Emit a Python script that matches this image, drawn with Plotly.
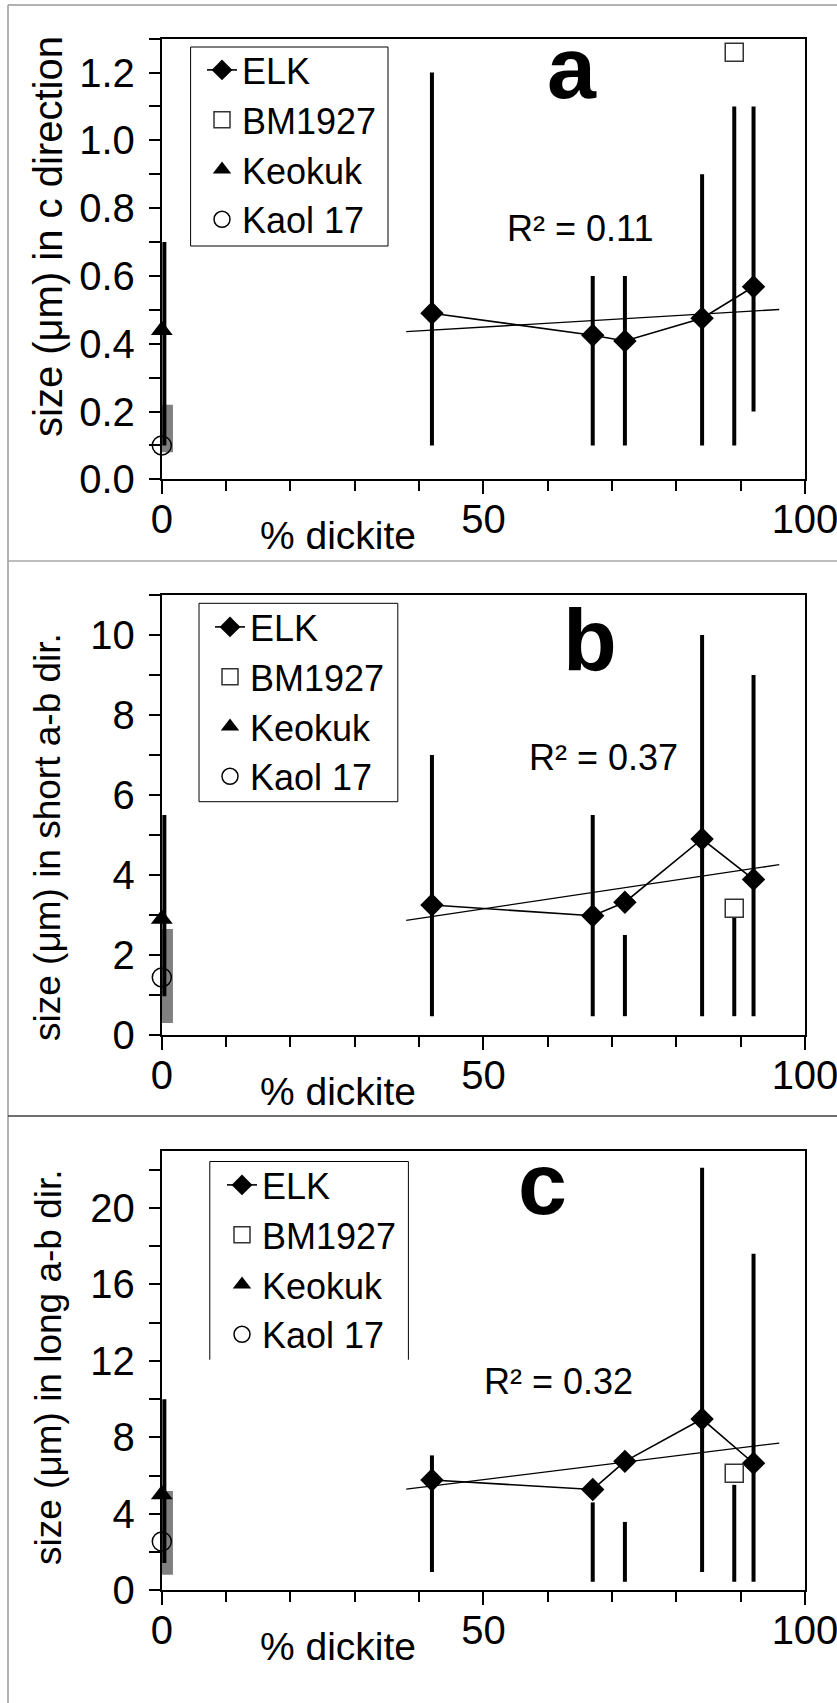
import numpy as np
import plotly.graph_objects as go

W, H = 837, 1703
FONT = "Liberation Sans, Arial, sans-serif"

# % dickite of each sample
dickite_elk = [42, 67, 72, 84, 92]
dickite_bm = [89]
dickite_keo = [0]
dickite_kaol = [0]

# panel a: size (um) in c direction
elk_a = [0.49, 0.425, 0.408, 0.475, 0.568]
elk_a_lo = [0.1, 0.1, 0.1, 0.1, 0.2]
elk_a_hi = [1.2, 0.6, 0.6, 0.9, 1.1]
bm_a, bm_a_lo, bm_a_hi = [1.26], [0.1], [1.1]
keo_a, keo_a_lo, keo_a_hi = [0.44], [0.1], [0.7]
kaol_a, kaol_a_lo, kaol_a_hi = [0.1], [0.08], [0.22]

# panel b: size (um) in short a-b direction
elk_b = [3.25, 2.98, 3.32, 4.9, 3.89]
elk_b_lo = [0.47, 0.47, 0.47, 0.47, 0.47]
elk_b_hi = [7.0, 5.5, 2.5, 10.0, 9.0]
bm_b, bm_b_lo, bm_b_hi = [3.17], [0.47], [3.0]
keo_b, keo_b_lo, keo_b_hi = [2.9], [0.97], [5.5]
kaol_b, kaol_b_lo, kaol_b_hi = [1.44], [0.3], [2.65]

# panel c: size (um) in long a-b direction
elk_c = [5.77, 5.28, 6.75, 8.96, 6.65]
elk_c_lo = [0.96, 0.45, 0.45, 0.96, 0.45]
elk_c_hi = [7.06, 4.6, 3.58, 22.1, 17.6]
bm_c, bm_c_lo, bm_c_hi = [6.13], [0.45], [5.52]
keo_c, keo_c_lo, keo_c_hi = [5.01], [1.43], [10.0]
kaol_c, kaol_c_lo, kaol_c_hi = [2.56], [0.82], [5.2]

r2_labels = ["R² = 0.11", "R² = 0.37", "R² = 0.32"]
panel_letters = ["a", "b", "c"]
y_titles = ["size (μm) in c direction", "size (μm) in short a-b dir.",
            "size (μm) in long a-b dir."]
trend_x = [38, 96]

panels = [
    dict(elk=elk_a, elk_lo=elk_a_lo, elk_hi=elk_a_hi, bm=bm_a, bm_lo=bm_a_lo, bm_hi=bm_a_hi,
         keo=keo_a, keo_lo=keo_a_lo, keo_hi=keo_a_hi, kaol=kaol_a, kaol_lo=kaol_a_lo, kaol_hi=kaol_a_hi,
         yrange=[0, 1.3], dtick=0.2, minor=0.1, fmt=".1f", top=38.6, bottom=479.3,
         r2=(65.0, 0.741), letter=(63.8, 1.215), ytitle_y=237, ytitle_size=40,
         legx=202, legy=40, box=(190.6, 388, 47, 246, True)),
    dict(elk=elk_b, elk_lo=elk_b_lo, elk_hi=elk_b_hi, bm=bm_b, bm_lo=bm_b_lo, bm_hi=bm_b_hi,
         keo=keo_b, keo_lo=keo_b_lo, keo_hi=keo_b_hi, kaol=kaol_b, kaol_lo=kaol_b_lo, kaol_hi=kaol_b_hi,
         yrange=[0, 11], dtick=2, minor=1, fmt="d", top=595, bottom=1035,
         r2=(68.7, 6.94), letter=(66.5, 9.89), ytitle_y=837, ytitle_size=37,
         legx=210, legy=597, box=(199, 397.8, 603.3, 801.7, True)),
    dict(elk=elk_c, elk_lo=elk_c_lo, elk_hi=elk_c_hi, bm=bm_c, bm_lo=bm_c_lo, bm_hi=bm_c_hi,
         keo=keo_c, keo_lo=keo_c_lo, keo_hi=keo_c_hi, kaol=kaol_c, kaol_lo=kaol_c_lo, kaol_hi=kaol_c_hi,
         yrange=[0, 23], dtick=4, minor=2, fmt="d", top=1150.6, bottom=1590.4,
         r2=(61.7, 10.9), letter=(59.2, 21.28), ytitle_y=1367, ytitle_size=37,
         legx=222, legy=1155, box=(209.8, 408.4, 1161.5, 1359.7, False)),
]

PLOT_L, PLOT_R = 161.8, 805.0
KEO_BAR_DX, KAOL_BAR_DX = 0.4, 0.8


def px(v):
    return v / W


def py(v):
    return 1 - v / H


def segments(xs, los, his):
    sx, sy = [], []
    for x, lo, hi in zip(xs, los, his):
        sx += [x, x, None]
        sy += [lo, hi, None]
    return sx, sy


fig = go.Figure()
shapes, annotations = [], []
layout = {}

for i, p in enumerate(panels):
    n = "" if i == 0 else str(i + 1)
    xa, ya, leg = "x" + n, "y" + n, "legend" + n
    common = dict(xaxis=xa, yaxis=ya, legend=leg)

    # gray error bar of Kaol 17
    gx, gy = segments([x + KAOL_BAR_DX for x in dickite_kaol], p["kaol_lo"], p["kaol_hi"])
    fig.add_trace(go.Scatter(x=gx, y=gy, mode="lines", line=dict(color="#808080", width=12),
                             showlegend=False, cliponaxis=False, hoverinfo="skip", **common))
    # black error bars
    bx, by = segments(dickite_elk + dickite_bm + [x + KEO_BAR_DX for x in dickite_keo],
                      p["elk_lo"] + p["bm_lo"] + p["keo_lo"],
                      p["elk_hi"] + p["bm_hi"] + p["keo_hi"])
    fig.add_trace(go.Scatter(x=bx, y=by, mode="lines", line=dict(color="black", width=4),
                             showlegend=False, cliponaxis=False, hoverinfo="skip", **common))
    # linear trend of ELK
    coef = np.polyfit(dickite_elk, p["elk"], 1)
    fig.add_trace(go.Scatter(x=trend_x, y=np.polyval(coef, trend_x), mode="lines",
                             line=dict(color="black", width=1.3), showlegend=False, **common))

    fig.add_trace(go.Scatter(x=dickite_elk, y=p["elk"], name="ELK", mode="lines+markers",
                             line=dict(color="black", width=1.6),
                             marker=dict(symbol="diamond", size=18, color="black"), **common))
    fig.add_trace(go.Scatter(x=dickite_bm, y=p["bm"], name="BM1927", mode="markers",
                             marker=dict(symbol="square", size=18, color="white",
                                         line=dict(color="#333333", width=1.5)),
                             cliponaxis=False, **common))
    fig.add_trace(go.Scatter(x=dickite_keo, y=p["keo"], name="Keokuk", mode="markers",
                             marker=dict(symbol="triangle-up", size=19, color="black"),
                             cliponaxis=False, **common))
    fig.add_trace(go.Scatter(x=dickite_kaol, y=p["kaol"], name="Kaol 17", mode="markers",
                             marker=dict(symbol="circle-open", size=19, color="black",
                                         line=dict(width=1.5)),
                             cliponaxis=False, **common))

    ydom = [py(p["bottom"]), py(p["top"])]
    layout["xaxis" + n] = dict(
        domain=[px(PLOT_L), px(PLOT_R)], range=[0, 100], anchor=ya, automargin=False,
        tickvals=[0, 50, 100], ticks="outside", ticklen=13, tickwidth=1.5, tickcolor="black",
        minor=dict(tickvals=list(range(0, 101, 10)), ticks="outside", ticklen=10,
                   tickwidth=1.5, tickcolor="black"),
        showline=True, linecolor="black", linewidth=2, mirror=True,
        showgrid=False, zeroline=False, ticklabelstandoff=-9, ticklabeloverflow="allow",
        tickfont=dict(size=40, color="black", family=FONT))
    layout["yaxis" + n] = dict(
        domain=ydom, range=p["yrange"], anchor=xa, automargin=False,
        dtick=p["dtick"], tick0=0,
        tickformat=p["fmt"], ticks="outside", ticklen=11, tickwidth=1.5, tickcolor="black",
        minor=dict(dtick=p["minor"], ticks="outside", ticklen=11, tickwidth=1.5,
                   tickcolor="black"),
        showline=True, linecolor="black", linewidth=2, mirror=True,
        showgrid=False, zeroline=False, ticklabelstandoff=6, ticklabeloverflow="allow",
        tickfont=dict(size=40, color="black", family=FONT))
    layout[leg] = dict(
        x=px(p["legx"]), y=py(p["legy"]), xanchor="left", yanchor="top",
        bgcolor="rgba(0,0,0,0)", borderwidth=0,
        font=dict(size=36, color="black", family=FONT))

    x0, x1, y0, y1, closed = p["box"]
    if closed:
        shapes.append(dict(type="rect", xref="paper", yref="paper", x0=px(x0), x1=px(x1),
                           y0=py(y1), y1=py(y0), line=dict(color="black", width=1)))
    else:
        shapes.append(dict(type="path", xref="paper", yref="paper",
                           path=f"M {px(x0)} {py(y1)} L {px(x0)} {py(y0)} L {px(x1)} {py(y0)} L {px(x1)} {py(y1)}",
                           line=dict(color="black", width=1)))

    annotations.append(dict(x=p["r2"][0], y=p["r2"][1], xref=xa, yref=ya, text=r2_labels[i],
                            xanchor="center", yanchor="middle", showarrow=False,
                            font=dict(size=36, color="black", family=FONT)))
    annotations.append(dict(x=p["letter"][0], y=p["letter"][1], xref=xa, yref=ya,
                            text="<b>" + panel_letters[i] + "</b>", showarrow=False,
                            xanchor="center", yanchor="middle",
                            font=dict(size=88, color="black", family=FONT)))
    annotations.append(dict(x=px(48), y=py(p["ytitle_y"]), xref="paper", yref="paper",
                            text=y_titles[i], textangle=-90, showarrow=False,
                            xanchor="center", yanchor="middle",
                            font=dict(size=p["ytitle_size"], color="black", family=FONT)))
    annotations.append(dict(x=px(338), y=py(p["bottom"] + 56), xref="paper", yref="paper",
                            text="% dickite", showarrow=False,
                            xanchor="center", yanchor="middle",
                            font=dict(size=39, color="black", family=FONT)))

# panel frame lines
for (a0, b0, a1, b1, col) in [(8, 5, 837, 5, "#9a9a9a"), (8, 5, 8, 1703, "#9a9a9a"),
                              (8, 561, 837, 561, "#a8a8a8"), (8, 1116, 837, 1116, "#404040")]:
    shapes.append(dict(type="line", xref="paper", yref="paper", x0=px(a0), y0=py(b0),
                       x1=px(a1), y1=py(b1), line=dict(color=col, width=1.5)))

fig.update_layout(
    width=W, height=H, autosize=False,
    margin=dict(l=0, r=0, t=0, b=0, autoexpand=False),
    paper_bgcolor="white", plot_bgcolor="white",
    font=dict(family=FONT, color="black"),
    shapes=shapes, annotations=annotations, **layout)

# the default page body has an 8px margin; drop it so the figure fills the window
fig.write_html("out.html", config={"responsive": False, "displayModeBar": False},
               post_script="document.body.style.margin = '0';")
